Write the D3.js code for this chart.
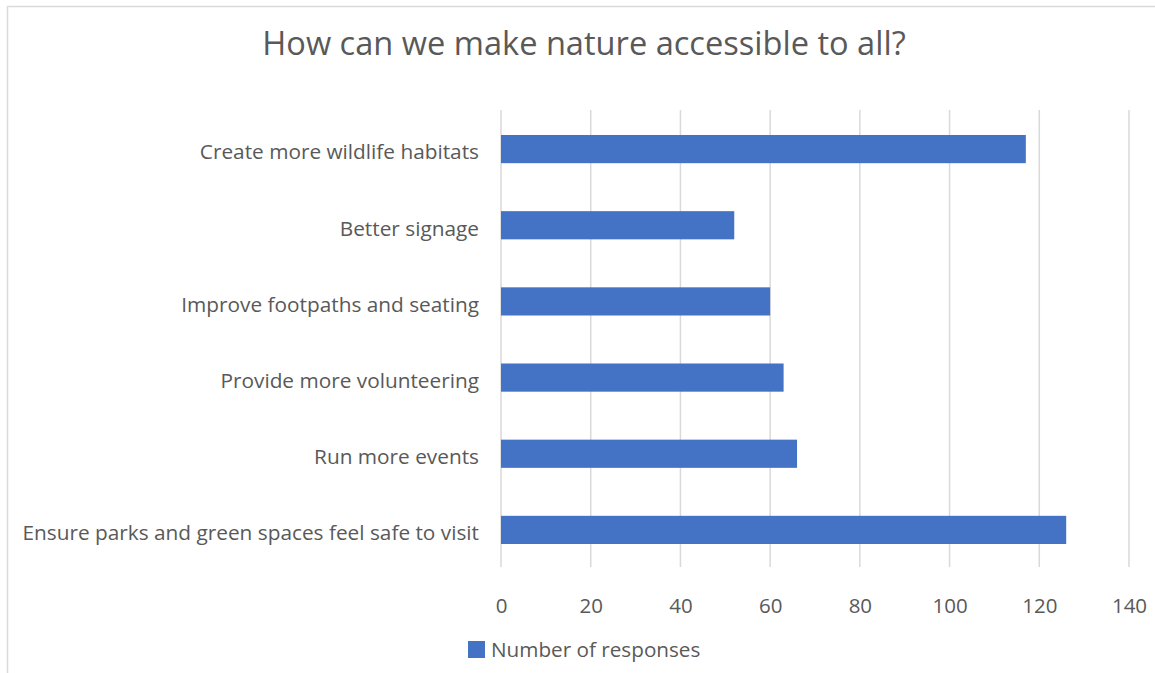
<!DOCTYPE html>
<html>
<head>
<meta charset="utf-8">
<script src="https://cdn.jsdelivr.net/npm/d3@7"></script>
<style>
  html, body { margin: 0; padding: 0; background: #fff; }
  svg { display: block; }
  text { font-family: "Open Sans", "Noto Sans", sans-serif; fill: #595959; }
</style>
</head>
<body>
<svg id="chart" width="1155" height="673"></svg>
<script>
const categories = [
  "Ensure parks and green spaces feel safe to visit",
  "Run more events",
  "Provide more volunteering",
  "Improve footpaths and seating",
  "Better signage",
  "Create more wildlife habitats"
];
const values = [126, 66, 63, 60, 52, 117];
const xTicks = [0, 20, 40, 60, 80, 100, 120, 140];
const seriesName = "Number of responses";
const title = "How can we make nature accessible to all?";

const W = 1155, H = 673;
const svg = d3.select("#chart");

// chart border
svg.append("rect")
  .attr("x", 7.5).attr("y", 6.5)
  .attr("width", W + 10).attr("height", H + 10)
  .attr("fill", "none").attr("stroke", "#d9d9d9").attr("stroke-width", 1.5);

const plot = { left: 501, right: 1129, top: 111, bottom: 568 };

const x = d3.scaleLinear().domain([0, 140]).range([plot.left, plot.right]);
const y = d3.scaleBand()
  .domain(categories.slice().reverse())
  .range([plot.top, plot.bottom])
  .paddingInner(0.63).paddingOuter(0.315);

// gridlines
svg.append("g").selectAll("line").data(xTicks).join("line")
  .attr("x1", d => x(d)).attr("x2", d => x(d))
  .attr("y1", plot.top - 1).attr("y2", plot.bottom - 1)
  .attr("stroke", "#d9d9d9").attr("stroke-width", 1.5);

// bars
svg.append("g").selectAll("rect").data(categories).join("rect")
  .attr("x", x(0))
  .attr("y", d => y(d))
  .attr("width", (d, i) => x(values[i]) - x(0))
  .attr("height", y.bandwidth())
  .attr("fill", "#4472c4");

// x axis labels
const xAxis = d3.axisBottom(x).tickValues(xTicks).tickSize(0).tickPadding(0);
const gx = svg.append("g").attr("transform", `translate(0,${plot.bottom})`).call(xAxis);
gx.select(".domain").remove();
gx.selectAll("text")
  .attr("dy", null).attr("y", 45)
  .style("font-size", "20.5px").style("fill", "#595959")
  .style("font-family", '"Open Sans", sans-serif');

// y axis labels
const yAxis = d3.axisLeft(y).tickSize(0).tickPadding(22);
const gy = svg.append("g").attr("transform", `translate(${plot.left},0)`).call(yAxis);
gy.select(".domain").remove();
gy.selectAll("text")
  .attr("dy", "0.5em")
  .style("font-size", "20.8px").style("fill", "#595959")
  .style("font-family", '"Open Sans", sans-serif');

// title
svg.append("text")
  .attr("x", 584).attr("y", 55)
  .attr("text-anchor", "middle")
  .style("font-size", "32.6px")
  .text(title);

// legend
const lg = svg.append("g");
lg.append("rect").attr("x", 468).attr("y", 641).attr("width", 17).attr("height", 17).attr("fill", "#4472c4");
lg.append("text").attr("x", 491).attr("y", 657).style("font-size", "20.7px").text(seriesName);
</script>
</body>
</html>
